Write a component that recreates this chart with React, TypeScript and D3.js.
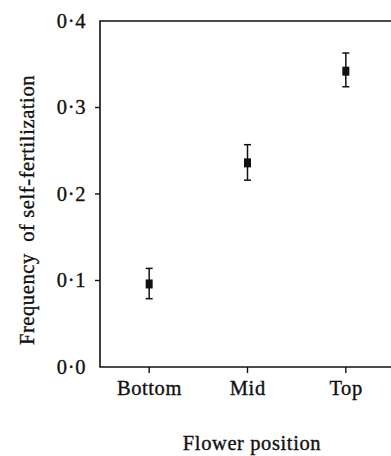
import React, { useEffect, useRef } from "react";
import * as d3 from "d3";

const positions = ["Bottom", "Mid", "Top"];
const means = [0.096, 0.236, 0.342];
const upper = [0.114, 0.257, 0.363];
const lower = [0.079, 0.216, 0.324];
const yTicks = [0, 0.1, 0.2, 0.3, 0.4];

const SelfFertChart: React.FC<{ width?: number; height?: number }> = ({
  width = 391,
  height = 456,
}) => {
  const chartRef = useRef<SVGSVGElement | null>(null);

  useEffect(() => {
    if (!chartRef.current) return;
    const svg = d3.select(chartRef.current);
    svg.selectAll("*").remove();

    const font = "Liberation Serif";
    const fs = 20.5;
    const ink = "#111";
    const left = 100;
    const right = 395;
    const top = 21;
    const bottom = 367;

    const x = d3.scalePoint<string>().domain(positions).range([left, right]).padding(0.5);
    const y = d3.scaleLinear().domain([0, 0.4]).range([bottom, top]);

    const txt = (g: d3.Selection<any, unknown, null, undefined>) =>
      g
        .append("text")
        .attr("font-family", font)
        .attr("font-size", fs)
        .attr("letter-spacing", 0.6)
        .attr("fill", ink)
        .attr("stroke", ink)
        .attr("stroke-width", 0.35);

    // frame: left axis, top line, bottom axis
    svg
      .append("path")
      .attr("d", `M${right},${top}H${left}V${bottom}H${right}`)
      .attr("fill", "none")
      .attr("stroke", ink)
      .attr("stroke-width", 1.6);

    // y ticks
    const yAxis = svg.append("g");
    yTicks.forEach((t) => {
      if (t > 0 && t < 0.4) {
        yAxis
          .append("line")
          .attr("x1", left - 5)
          .attr("x2", left)
          .attr("y1", y(t))
          .attr("y2", y(t))
          .attr("stroke", ink)
          .attr("stroke-width", 1.4);
      }
      txt(yAxis)
        .attr("x", left - 14)
        .attr("y", y(t))
        .attr("dy", "0.34em")
        .attr("text-anchor", "end")
        .text(d3.format(".1f")(t).replace(".", "\u00b7"));
    });

    // x ticks
    const xAxis = svg.append("g");
    positions.forEach((p) => {
      xAxis
        .append("line")
        .attr("x1", x(p)!)
        .attr("x2", x(p)!)
        .attr("y1", bottom)
        .attr("y2", bottom + 6)
        .attr("stroke", ink)
        .attr("stroke-width", 1.4);
      txt(xAxis)
        .attr("x", x(p)! + 0.3)
        .attr("y", 395)
        .attr("text-anchor", "middle")
        .text(p);
    });

    // error bars + markers
    const pts = svg.append("g");
    positions.forEach((p, i) => {
      const cx = x(p)!;
      pts
        .append("line")
        .attr("x1", cx)
        .attr("x2", cx)
        .attr("y1", y(upper[i]))
        .attr("y2", y(lower[i]))
        .attr("stroke", ink)
        .attr("stroke-width", 1.5);
      [upper[i], lower[i]].forEach((v) => {
        pts
          .append("line")
          .attr("x1", cx - 3.5)
          .attr("x2", cx + 3.5)
          .attr("y1", y(v))
          .attr("y2", y(v))
          .attr("stroke", ink)
          .attr("stroke-width", 1.5);
      });
      pts
        .append("rect")
        .attr("x", cx - 3.5)
        .attr("y", y(means[i]) - 4.5)
        .attr("width", 7)
        .attr("height", 9)
        .attr("fill", ink);
    });

    // axis titles
    txt(svg)
      .attr("x", 252)
      .attr("y", 450)
      .attr("text-anchor", "middle")
      .text("Flower position");

    txt(svg)
      .attr("transform", "rotate(-90)")
      .attr("x", -210)
      .attr("y", 34)
      .attr("text-anchor", "middle")
      .attr("xml:space", "preserve")
      .text("Frequency  of self-fertilization");
  }, [width, height]);

  return (
    <svg
      ref={chartRef}
      width={width}
      height={height}
      style={{ position: "absolute", left: 0, top: 0, background: "#fff" }}
    />
  );
};

export default function App() {
  return <SelfFertChart />;
}
